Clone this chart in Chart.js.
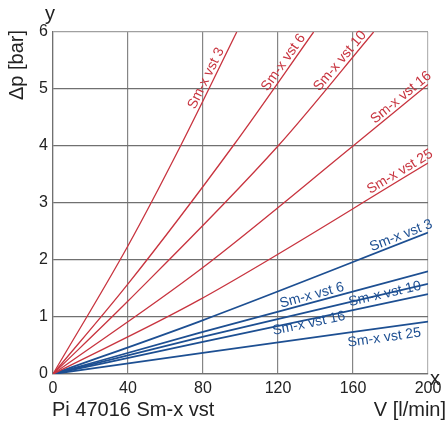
<!DOCTYPE html>
<html>
<head>
<meta charset="utf-8">
<script src="https://cdn.jsdelivr.net/npm/chart.js@4"></script>
<style>
  html, body { margin: 0; padding: 0; background: #fff; }
  #wrap { width: 447px; height: 423px; position: relative; }
</style>
</head>
<body>
<div id="wrap"><canvas id="chart"></canvas></div>
<script>
// Series names (same for both element groups)
const names = ['Sm-x vst 3', 'Sm-x vst 6', 'Sm-x vst 10', 'Sm-x vst 16', 'Sm-x vst 25'];

// Red group: flow [l/min] and pressure drop [bar]
const red3X = [0, 40, 68, 98];
const red3Y = [0, 2.25, 4, 6];
const red6X = [0, 40, 96, 139];
const red6Y = [0, 1.58, 4, 6];
const red10X = [0, 40, 120, 171];
const red10Y = [0, 1.28, 4, 6];
const red16X = [0, 78, 160, 200];
const red16Y = [0, 1.82, 4, 5.08];
const red25X = [0, 78, 200];
const red25Y = [0, 1.3, 3.7];

// Blue group
const blueX = [0, 78, 200];
const blue3Y = [0, 0.92, 2.48];
const blue6Y = [0, 0.72, 1.80];
const blue10Y = [0, 0.64, 1.58];
const blue16Y = [0, 0.55, 1.40];
const blue25Y = [0, 0.36, 0.92];

const xTicks = [0, 40, 80, 120, 160, 200];
const yTicks = [0, 1, 2, 3, 4, 5, 6];

const RED = '#c8343f';
const BLUE = '#1d4f92';
const FONT = '"Liberation Sans", Arial, sans-serif';

function pts(xs, ys) { return xs.map((x, i) => ({ x: x, y: ys[i] })); }

// label placement: x along the line, offset normal to line (px, + = above)
function ds(label, xs, ys, color, width, at, off) {
  return {
    label: label, data: pts(xs, ys), borderColor: color, borderWidth: width,
    pointRadius: 0, fill: false, cubicInterpolationMode: 'monotone',
    labelAt: at, labelOff: off
  };
}

const datasets = [
  ds(names[0], red3X, red3Y, RED, 1.3, 85, 7),
  ds(names[1], red6X, red6Y, RED, 1.3, 126, 7),
  ds(names[2], red10X, red10Y, RED, 1.3, 156, 7),
  ds(names[3], red16X, red16Y, RED, 1.3, 188, 7),
  ds(names[4], red25X, red25Y, RED, 1.3, 187, 7),
  ds(names[0], blueX, blue3Y, BLUE, 1.8, 187, 7),
  ds(names[1], blueX, blue6Y, BLUE, 1.8, 139, 7),
  ds(names[2], blueX, blue10Y, BLUE, 1.8, 177, 0),
  ds(names[3], blueX, blue16Y, BLUE, 1.8, 136, -4),
  ds(names[4], blueX, blue25Y, BLUE, 1.8, 176, -10)
];

const lineLabels = {
  id: 'lineLabels',
  afterDatasetsDraw(chart) {
    const ctx = chart.ctx, xs = chart.scales.x, ys = chart.scales.y;
    ctx.save();
    ctx.font = '14px ' + FONT;
    ctx.textAlign = 'center';
    ctx.textBaseline = 'middle';
    chart.data.datasets.forEach(d => {
      const p = d.data;
      let i = 0;
      while (i < p.length - 2 && p[i + 1].x < d.labelAt) i++;
      const a = p[i], b = p[i + 1];
      const t = (d.labelAt - a.x) / (b.x - a.x);
      const y = a.y + t * (b.y - a.y);
      const px = xs.getPixelForValue(d.labelAt), py = ys.getPixelForValue(y);
      const ang = Math.atan2(ys.getPixelForValue(b.y) - ys.getPixelForValue(a.y),
                             xs.getPixelForValue(b.x) - xs.getPixelForValue(a.x));
      ctx.save();
      ctx.translate(px + Math.sin(ang) * d.labelOff, py - Math.cos(ang) * d.labelOff);
      ctx.rotate(ang);
      ctx.fillStyle = d.borderColor;
      ctx.fillText(d.label, 0, 0);
      ctx.restore();
    });
    ctx.restore();
  }
};

const titles = {
  id: 'titles',
  afterDraw(chart) {
    const ctx = chart.ctx;
    ctx.save();
    ctx.fillStyle = '#222';
    ctx.font = '20px ' + FONT;
    ctx.textBaseline = 'alphabetic';
    ctx.textAlign = 'left';
    ctx.fillText('y', 45, 20);
    ctx.fillText('x', 430, 385);
    ctx.fillText('Pi 47016 Sm-x vst', 52, 416);
    ctx.textAlign = 'right';
    ctx.fillText('V [l/min]', 446, 416);
    ctx.save();
    ctx.translate(23, 65);
    ctx.rotate(-Math.PI / 2);
    ctx.textAlign = 'center';
    ctx.fillText('Δp [bar]', 0, 0);
    ctx.restore();
    ctx.restore();
  }
};

new Chart(document.getElementById('chart'), {
  type: 'line',
  data: { datasets: datasets },
  options: {
    responsive: true,
    maintainAspectRatio: false,
    animation: false,
    layout: { padding: { top: 32, right: 19, left: 0, bottom: 0 } },
    plugins: { legend: { display: false }, tooltip: { enabled: false } },
    scales: {
      x: {
        type: 'linear', min: 0, max: 200,
        afterBuildTicks: s => { s.ticks = xTicks.map(v => ({ value: v })); },
        afterFit: s => { s.height = 49; },
        grid: {
          color: c => c.tick.value === 200 ? '#b5b5b5' : '#858585',
          lineWidth: 1.2, drawTicks: false
        },
        border: { color: '#707070', width: 1.2 },
        ticks: { color: '#222', font: { family: FONT, size: 16 }, padding: 5, maxRotation: 0 }
      },
      y: {
        min: 0, max: 6,
        afterBuildTicks: s => { s.ticks = yTicks.map(v => ({ value: v })); },
        afterFit: s => { s.width = 53; },
        grid: {
          color: c => c.tick.value === 6 ? '#a0a0a0' : '#707070',
          lineWidth: 1.2, drawTicks: false
        },
        border: { color: '#707070', width: 1.2 },
        ticks: { color: '#222', font: { family: FONT, size: 16 }, padding: 5 }
      }
    }
  },
  plugins: [lineLabels, titles]
});
</script>
</body>
</html>
